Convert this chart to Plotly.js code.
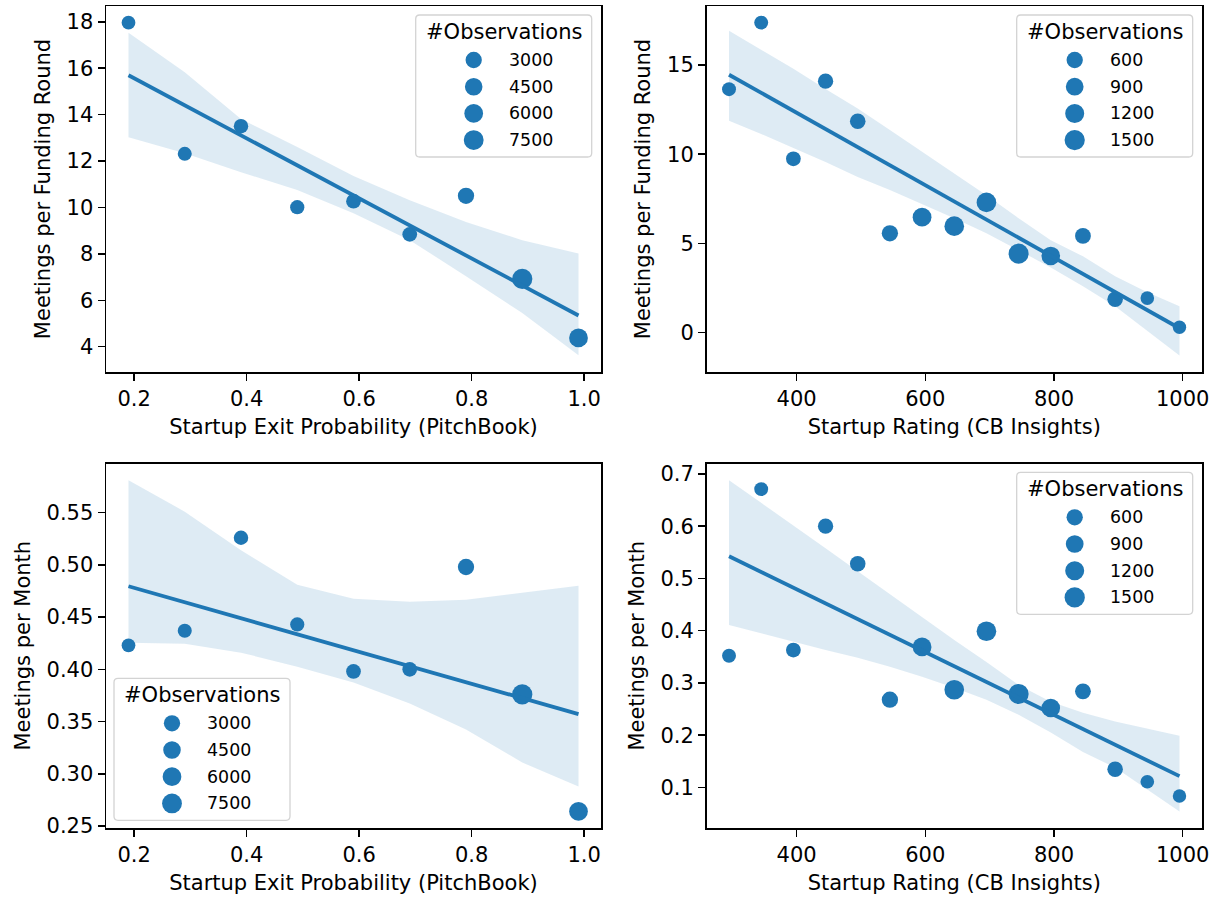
<!DOCTYPE html>
<html>
<head>
<meta charset="utf-8">
<script src="https://cdn.plot.ly/plotly-3.0.1.min.js"></script>
<style>html,body{margin:0;padding:0;background:#fff;}</style>
</head>
<body>
<div id="chart" style="width:1217px;height:899px;"></div>
<script>
// ---------------- data ----------------
const exitProb = [0.19, 0.29, 0.39, 0.49, 0.59, 0.69, 0.79, 0.89, 0.99];
const exitObs = [300, 600, 1000, 800, 1300, 1300, 3000, 8000, 6000];
const exitMeetingsPerRound = [17.96, 12.31, 13.50, 10.01, 10.27, 8.84, 10.50, 6.92, 4.38];
const exitRoundCiHigh = [17.53, 15.83, 13.81, 12.60, 11.35, 10.31, 9.37, 8.59, 8.02];
const exitRoundCiLow  = [13.03, 12.34, 11.52, 10.75, 9.75, 8.59, 7.04, 5.45, 3.63];
const exitMeetingsPerMonth = [0.423, 0.437, 0.526, 0.443, 0.398, 0.400, 0.498, 0.376, 0.264];
const exitMonthCiHigh = [0.581, 0.551, 0.514, 0.481, 0.4675, 0.4647, 0.4666, 0.4733, 0.480];
const exitMonthCiLow  = [0.4255, 0.4246, 0.416, 0.4026, 0.3873, 0.3672, 0.3424, 0.3109, 0.2879];

const cbRating = [295, 345, 395, 445, 495, 545, 595, 645, 695, 745, 795, 845, 895, 945, 995];
const cbObs = [150, 150, 300, 400, 450, 600, 1150, 1350, 1350, 1450, 1100, 500, 450, 100, 60];
const cbMeetingsPerRound = [13.64, 17.37, 9.74, 14.09, 11.84, 5.57, 6.47, 5.97, 7.30, 4.43, 4.30, 5.42, 1.87, 1.94, 0.31];
const cbRoundCiHigh = [16.92, 15.84, 14.78, 13.65, 12.56, 11.35, 10.12, 8.94, 7.70, 6.41, 5.18, 4.28, 3.16, 2.26, 1.48];
const cbRoundCiLow  = [11.87, 11.13, 10.34, 9.56, 8.72, 7.99, 7.20, 6.41, 5.57, 4.62, 3.66, 2.60, 1.48, 0.13, -1.27];
const cbMeetingsPerMonth = [0.352, 0.671, 0.363, 0.600, 0.528, 0.268, 0.369, 0.287, 0.399, 0.279, 0.252, 0.284, 0.135, 0.111, 0.0835];
const cbMonthCiHigh = [0.688, 0.645, 0.601, 0.558, 0.514, 0.470, 0.426, 0.382, 0.340, 0.296, 0.264, 0.243, 0.226, 0.212, 0.199];
const cbMonthCiLow  = [0.411, 0.396, 0.379, 0.363, 0.348, 0.331, 0.312, 0.291, 0.268, 0.239, 0.205, 0.168, 0.138, 0.096, 0.054];

const exitLegendValues = [3000, 4500, 6000, 7500];
const cbLegendValues = [600, 900, 1200, 1500];
const legendTitle = '#Observations';

const xTitleExit = 'Startup Exit Probability (PitchBook)';
const xTitleCb = 'Startup Rating (CB Insights)';
const yTitleRound = 'Meetings per Funding Round';
const yTitleMonth = 'Meetings per Month';

// ---------------- styling / helpers ----------------
const W = 1217, H = 899;
const BLUE = '#1f77b4';
const BAND = 'rgba(31,119,180,0.15)';
const FONT = 'DejaVu Sans';
const FS = 21;

// marker diameter from #observations (area linear in count)
const exitSize = n => Math.sqrt(180 + 0.0285 * n);
const cbSize = n => Math.sqrt(170 + 0.16 * n);

function ols(x, y) {
  const n = x.length;
  const mx = x.reduce((a, b) => a + b, 0) / n;
  const my = y.reduce((a, b) => a + b, 0) / n;
  let sxy = 0, sxx = 0;
  for (let i = 0; i < n; i++) { sxy += (x[i] - mx) * (y[i] - my); sxx += (x[i] - mx) ** 2; }
  const b = sxy / sxx;
  return v => my + b * (v - mx);
}

const traces = [];
function panel(xa, ya, x, y, lo, hi, obs, sizeFn) {
  traces.push({
    type: 'scatter', mode: 'lines', xaxis: xa, yaxis: ya,
    x: x.concat(x.slice().reverse()),
    y: hi.concat(lo.slice().reverse()),
    fill: 'toself', fillcolor: BAND, line: {width: 0}, hoverinfo: 'skip', showlegend: false
  });
  traces.push({
    type: 'scatter', mode: 'markers', xaxis: xa, yaxis: ya, x: x, y: y,
    marker: {color: BLUE, size: obs.map(sizeFn), line: {width: 0}, opacity: 1},
    showlegend: false
  });
  const f = ols(x, y);
  const xs = [Math.min(...x), Math.max(...x)];
  traces.push({
    type: 'scatter', mode: 'lines', xaxis: xa, yaxis: ya, x: xs, y: xs.map(f),
    line: {color: BLUE, width: 3.8}, showlegend: false
  });
}
panel('x', 'y', exitProb, exitMeetingsPerRound, exitRoundCiLow, exitRoundCiHigh, exitObs, exitSize);
panel('x2', 'y2', cbRating, cbMeetingsPerRound, cbRoundCiLow, cbRoundCiHigh, cbObs, cbSize);
panel('x3', 'y3', exitProb, exitMeetingsPerMonth, exitMonthCiLow, exitMonthCiHigh, exitObs, exitSize);
panel('x4', 'y4', cbRating, cbMeetingsPerMonth, cbMonthCiLow, cbMonthCiHigh, cbObs, cbSize);

const base = {
  showline: true, mirror: true, linecolor: '#000', linewidth: 1.5,
  ticks: 'outside', ticklen: 7, tickwidth: 1.5, tickcolor: '#000',
  showgrid: false, zeroline: false, fixedrange: true,
  tickfont: {family: FONT, size: FS, color: '#000'}
};
function ax(extra, title, standoff) {
  return Object.assign({}, base, extra, {
    title: {text: title, standoff: standoff, font: {family: FONT, size: FS, color: '#000'}}
  });
}
const dxL = [106 / W, 601 / W], dxR = [706.5 / W, 1202 / W];
const dyT = [1 - 372 / H, 1 - 6 / H], dyB = [1 - 828 / H, 1 - 463.5 / H];

const layout = {
  width: W, height: H, margin: {l: 0, r: 0, t: 0, b: 0},
  paper_bgcolor: '#fff', plot_bgcolor: '#fff', showlegend: false,
  font: {family: FONT, color: '#000'},
  xaxis: ax({domain: dxL, anchor: 'y', range: [0.15, 1.03], tick0: 0, dtick: 0.2, tickformat: '.1f'}, xTitleExit, 9),
  yaxis: ax({domain: dyT, anchor: 'x', range: [2.91, 18.68], tick0: 0, dtick: 2}, yTitleRound, 10),
  xaxis2: ax({domain: dxR, anchor: 'y2', range: [260, 1030], tick0: 0, dtick: 200}, xTitleCb, 9),
  yaxis2: ax({domain: dyT, anchor: 'x2', range: [-2.20, 18.30], tick0: 0, dtick: 5}, yTitleRound, 10),
  xaxis3: ax({domain: dxL, anchor: 'y3', range: [0.15, 1.03], tick0: 0, dtick: 0.2, tickformat: '.1f'}, xTitleExit, 9),
  yaxis3: ax({domain: dyB, anchor: 'x3', range: [0.2481, 0.5971], tick0: 0, dtick: 0.05, tickformat: '.2f'}, yTitleMonth, 10),
  xaxis4: ax({domain: dxR, anchor: 'y4', range: [260, 1030], tick0: 0, dtick: 200}, xTitleCb, 9),
  yaxis4: ax({domain: dyB, anchor: 'x4', range: [0.0224, 0.7200], tick0: 0, dtick: 0.1, tickformat: '.1f'}, yTitleMonth, 10),
  shapes: [], annotations: []
};

// ---------------- hand-drawn legends (matplotlib style) ----------------
const PX = p => p / W, PY = p => 1 - p / H;
function roundedRect(x0, y0, x1, y1, r) {
  const pts = [
    ['M', x0 + r, y0], ['L', x1 - r, y0], ['Q', x1, y0, x1, y0 + r], ['L', x1, y1 - r],
    ['Q', x1, y1, x1 - r, y1], ['L', x0 + r, y1], ['Q', x0, y1, x0, y1 - r], ['L', x0, y0 + r],
    ['Q', x0, y0, x0 + r, y0]
  ];
  return pts.map(p => {
    let s = p[0] + ' ' + PX(p[1]).toFixed(5) + ',' + PY(p[2]).toFixed(5);
    if (p.length > 3) s += ' ' + PX(p[3]).toFixed(5) + ',' + PY(p[4]).toFixed(5);
    return s;
  }).join(' ') + ' Z';
}
function legend(left, top, values, sizeFn) {
  const w = 176, h = 142;
  layout.shapes.push({
    type: 'path', xref: 'paper', yref: 'paper', path: roundedRect(left, top, left + w, top + h, 4),
    fillcolor: 'rgba(255,255,255,0.8)', line: {color: '#d3d3d3', width: 1.3}, layer: 'above'
  });
  layout.annotations.push({
    xref: 'paper', yref: 'paper', x: PX(left + 88), y: PY(top + 17), xanchor: 'center', yanchor: 'middle',
    text: legendTitle, showarrow: false, font: {family: FONT, size: 21, color: '#000'}
  });
  values.forEach((v, i) => {
    const cy = top + 45 + i * 26.7, cx = left + 58, r = sizeFn(v) / 2;
    layout.shapes.push({
      type: 'circle', xref: 'paper', yref: 'paper', xsizemode: 'pixel', ysizemode: 'pixel',
      xanchor: PX(cx), yanchor: PY(cy), x0: -r, x1: r, y0: -r, y1: r,
      fillcolor: BLUE, line: {width: 0}, layer: 'above'
    });
    layout.annotations.push({
      xref: 'paper', yref: 'paper', x: PX(left + 91), y: PY(cy), xanchor: 'left', yanchor: 'middle',
      text: String(v), showarrow: false, font: {family: FONT, size: 17.4, color: '#000'}
    });
  });
}
legend(415.7, 15, exitLegendValues, exitSize);
legend(1016.7, 15, cbLegendValues, cbSize);
legend(114, 678.3, exitLegendValues, exitSize);
legend(1016.7, 472.3, cbLegendValues, cbSize);

Plotly.newPlot('chart', traces, layout, {staticPlot: true, displayModeBar: false});
</script>
</body>
</html>
